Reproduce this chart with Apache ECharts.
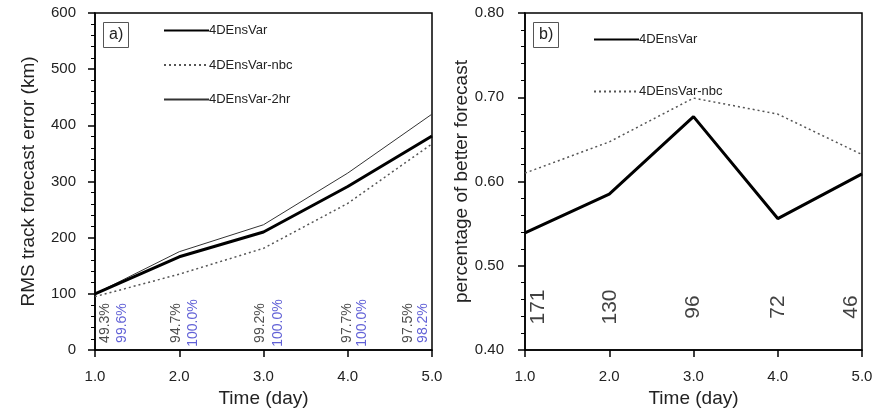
<!DOCTYPE html>
<html>
<head>
<meta charset="utf-8">
<script src="https://cdn.jsdelivr.net/npm/echarts@6/dist/echarts.min.js"></script>
<style>
html,body{margin:0;padding:0;background:#fff;}
#chart{width:885px;height:414px;}
</style>
</head>
<body>
<div id="chart"></div>
<script>
// ---- data ----
const days = [1, 2, 3, 4, 5];
const rmsEnsVar    = [100, 166, 210, 291, 381];
const rmsNbc       = [95, 135, 181, 261, 367];
const rms2hr       = [100, 175, 223, 315, 420];
const pctBlack     = ['49.3%', '94.7%', '99.2%', '97.7%', '97.5%'];
const pctBlue      = ['99.6%', '100.0%', '100.0%', '100.0%', '98.2%'];
const betterEnsVar = [0.539, 0.585, 0.677, 0.556, 0.609];
const betterNbc    = [0.610, 0.647, 0.699, 0.680, 0.632];
const sampleCounts = ['171', '130', '96', '72', '46'];
const xTicks = ['1.0', '2.0', '3.0', '4.0', '5.0'];

// ---- layout constants (label nudges in px) ----
const shiftBlack = [10, -3, -3, -1, -24];
const shiftBlue  = [27, 14, 15, 14, -9];
const shiftCount = [13, 1, 0, 0, -11];
const pctY = 48;
const countY = 0.451;

const FONT = 'Liberation Sans, Arial, Helvetica, sans-serif';
const chart = echarts.init(document.getElementById('chart'), null, {renderer: 'canvas'});

function xAxis(gi) {
  return {
    type: 'value', gridIndex: gi, min: 1, max: 5, interval: 1,
    name: 'Time (day)', nameLocation: 'middle', nameGap: 37,
    nameTextStyle: {fontSize: 19, color: '#222', fontFamily: FONT},
    axisLine: {show: true, lineStyle: {color: '#000', width: 1.5}},
    axisTick: {show: true, length: 7, lineStyle: {color: '#000', width: 1.5}},
    axisLabel: {margin: 19, fontSize: 15, color: '#222', fontFamily: FONT,
      formatter: v => xTicks[days.indexOf(v)] ?? v.toFixed(1)},
    splitLine: {show: false}
  };
}

function rotLabels(texts, shifts, yv) {
  // rotated 90deg: local y-offset maps to horizontal screen shift
  return days.map((d, i) => ({
    value: [d, yv],
    label: {offset: [0, shifts[i]], formatter: texts[i]}
  }));
}

const legendCommon = {
  orient: 'vertical', itemWidth: 45, itemHeight: 14, selectedMode: false, padding: 0,
  itemStyle: {opacity: 0},
  textStyle: {fontSize: 13, color: '#222', fontFamily: FONT, padding: [0, 0, 0, -5]}
};

const option = {
  backgroundColor: '#fff',
  animation: false,
  title: [
    {text: 'a)', left: 103, top: 22, padding: [5, 6, 5, 6], borderColor: '#555', borderWidth: 1,
     textStyle: {fontSize: 16, fontWeight: 'normal', color: '#222', fontFamily: FONT}},
    {text: 'b)', left: 533, top: 22, padding: [5, 6, 5, 6], borderColor: '#555', borderWidth: 1,
     textStyle: {fontSize: 16, fontWeight: 'normal', color: '#222', fontFamily: FONT}}
  ],
  legend: [
    Object.assign({}, legendCommon, {left: 163, top: 24, itemGap: 21.5,
      data: ['4DEnsVar', '4DEnsVar-nbc', '4DEnsVar-2hr']}),
    Object.assign({}, legendCommon, {left: 593, top: 33, itemGap: 39,
      data: ['4DEnsVar', '4DEnsVar-nbc']})
  ],
  grid: [
    {left: 95, top: 13, width: 337, height: 337, show: true, borderColor: '#000', borderWidth: 1.5},
    {left: 525, top: 13, width: 337, height: 337, show: true, borderColor: '#000', borderWidth: 1.5}
  ],
  xAxis: [xAxis(0), xAxis(1)],
  yAxis: [
    {type: 'value', gridIndex: 0, min: 0, max: 600, interval: 100,
     name: 'RMS track forecast error (km)', nameLocation: 'middle', nameGap: 57,
     nameTextStyle: {fontSize: 19, color: '#222', fontFamily: FONT},
     axisLine: {show: true, lineStyle: {color: '#000', width: 1.5}},
     axisTick: {show: true, length: 7, lineStyle: {color: '#000', width: 1.5}},
     minorTick: {show: true, splitNumber: 5, length: 4, lineStyle: {color: '#000', width: 1}},
     axisLabel: {margin: 19, fontSize: 15, color: '#222', fontFamily: FONT},
     splitLine: {show: false}},
    {type: 'value', gridIndex: 1, min: 0.4, max: 0.8, interval: 0.1,
     name: 'percentage of better forecast', nameLocation: 'middle', nameGap: 46,
     nameTextStyle: {fontSize: 19, color: '#222', fontFamily: FONT},
     axisLine: {show: true, lineStyle: {color: '#000', width: 1.5}},
     axisTick: {show: true, length: 7, lineStyle: {color: '#000', width: 1.5}},
     minorTick: {show: true, splitNumber: 5, length: 4, lineStyle: {color: '#000', width: 1}},
     axisLabel: {margin: 21, fontSize: 15, color: '#222', fontFamily: FONT,
       formatter: v => v.toFixed(2)},
     splitLine: {show: false}}
  ],
  series: [
    {name: '4DEnsVar', type: 'line', xAxisIndex: 0, yAxisIndex: 0, symbol: 'none',
     data: days.map((d, i) => [d, rmsEnsVar[i]]),
     lineStyle: {color: '#000', width: 3}, itemStyle: {color: '#000'}, z: 5},
    {name: '4DEnsVar-nbc', type: 'line', xAxisIndex: 0, yAxisIndex: 0, symbol: 'none',
     data: days.map((d, i) => [d, rmsNbc[i]]),
     lineStyle: {color: '#555', width: 1.5, type: [2, 3]}, itemStyle: {color: '#555'}},
    {name: '4DEnsVar-2hr', type: 'line', xAxisIndex: 0, yAxisIndex: 0, symbol: 'none',
     data: days.map((d, i) => [d, rms2hr[i]]),
     lineStyle: {color: '#333', width: 1}, itemStyle: {color: '#333'}},
    {name: 'pctBlack', type: 'scatter', xAxisIndex: 0, yAxisIndex: 0, symbolSize: 0, silent: true,
     itemStyle: {color: 'rgba(0,0,0,0)'},
     data: rotLabels(pctBlack, shiftBlack, pctY),
     label: {show: true, position: 'inside', rotate: 90, fontSize: 14, color: '#222', fontFamily: FONT}},
    {name: 'pctBlue', type: 'scatter', xAxisIndex: 0, yAxisIndex: 0, symbolSize: 0, silent: true,
     itemStyle: {color: 'rgba(0,0,0,0)'},
     data: rotLabels(pctBlue, shiftBlue, pctY),
     label: {show: true, position: 'inside', rotate: 90, fontSize: 14, color: '#3a3acc', fontFamily: FONT}},
    {name: '4DEnsVar', type: 'line', xAxisIndex: 1, yAxisIndex: 1, symbol: 'none',
     data: days.map((d, i) => [d, betterEnsVar[i]]),
     lineStyle: {color: '#000', width: 3}, itemStyle: {color: '#000'}, z: 5},
    {name: '4DEnsVar-nbc', type: 'line', xAxisIndex: 1, yAxisIndex: 1, symbol: 'none',
     data: days.map((d, i) => [d, betterNbc[i]]),
     lineStyle: {color: '#555', width: 1.5, type: [2, 3]}, itemStyle: {color: '#555'}},
    {name: 'counts', type: 'scatter', xAxisIndex: 1, yAxisIndex: 1, symbolSize: 0, silent: true,
     itemStyle: {color: 'rgba(0,0,0,0)'},
     data: rotLabels(sampleCounts, shiftCount, countY),
     label: {show: true, position: 'inside', rotate: 90, fontSize: 21, color: '#111', fontFamily: FONT}}
  ]
};
chart.setOption(option);
</script>
</body>
</html>
